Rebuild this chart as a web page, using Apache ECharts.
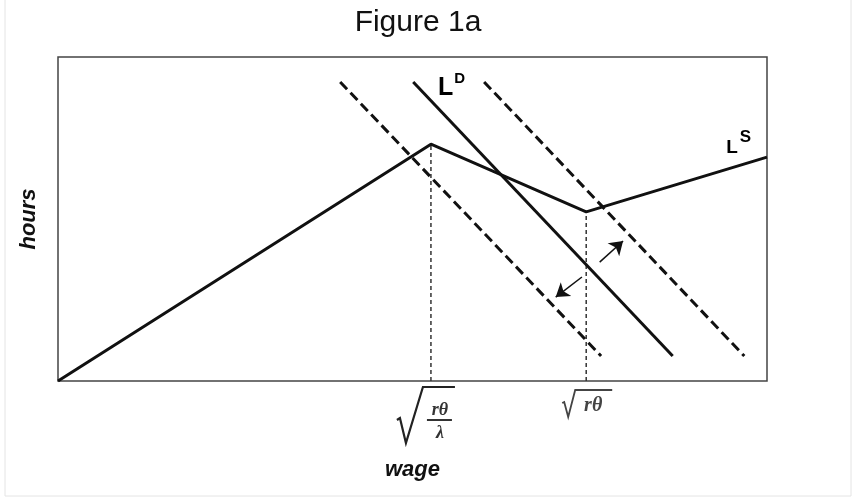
<!DOCTYPE html>
<html>
<head>
<meta charset="utf-8">
<title>Figure 1a</title>
<script src="https://cdn.jsdelivr.net/npm/echarts@6/dist/echarts.min.js"></script>
<style>
    html, body { margin: 0; padding: 0; background: #fff; }
    #main { width: 857px; height: 500px; }
</style>
</head>
<body>
<div id="main"></div>
<script>
// wage axis runs 0..100, hours axis runs 0..100
let supplyX = [0, 52.6, 74.5, 100];
let supplyY = [0, 73.1, 52.2, 69.1];

let demandX = [50.1, 86.7];
let demandLowX = [39.8, 76.6];
let demandHighX = [60.1, 96.8];
let demandY = [92.3, 7.7];

// the two kink wages and where they meet L^S
let kinkX = [52.6, 74.5];
let kinkY = [73.1, 52.2];

// shift arrows [from, to]
let arrowUp = [[76.4, 36.7], [79.7, 43.2]];
let arrowDown = [[73.9, 32.1], [70.2, 25.9]];

function pairs(xs, ys) {
    let out = [];
    for (let i = 0; i < xs.length; i++) {
        out.push([xs[i], ys[i]]);
    }
    return out;
}

let myChart = echarts.init(document.getElementById('main'));

let lineStyleBase = { color: '#111', width: 3 };

let option = {
    animation: false,
    backgroundColor: '#fff',
    title: {
        text: 'Figure 1a',
        left: 413,
        textAlign: 'center',
        top: 3,
        textStyle: {
            fontFamily: 'Liberation Sans',
            fontWeight: 'normal',
            fontSize: 30,
            color: '#111'
        }
    },
    grid: {
        left: 58,
        top: 57,
        right: 90,
        bottom: 119,
        show: true,
        borderColor: '#444',
        borderWidth: 1.5
    },
    xAxis: {
        type: 'value',
        min: 0,
        max: 100,
        name: 'wage',
        nameLocation: 'middle',
        nameGap: 78,
        nameTextStyle: {
            fontFamily: 'Liberation Sans',
            fontStyle: 'italic',
            fontWeight: 'bold',
            fontSize: 22,
            color: '#111'
        },
        axisLine: { show: false },
        axisTick: { show: false },
        axisLabel: { show: false },
        splitLine: { show: false }
    },
    yAxis: {
        type: 'value',
        min: 0,
        max: 100,
        name: 'hours',
        nameLocation: 'middle',
        nameRotate: 90,
        nameGap: 18,
        nameTextStyle: {
            fontFamily: 'Liberation Sans',
            fontStyle: 'italic',
            fontWeight: 'bold',
            fontSize: 22,
            color: '#111'
        },
        axisLine: { show: false },
        axisTick: { show: false },
        axisLabel: { show: false },
        splitLine: { show: false }
    },
    series: [
        {
            // L^S
            type: 'line',
            data: pairs(supplyX, supplyY),
            symbol: 'none',
            lineStyle: lineStyleBase,
            z: 5
        },
        {
            // L^D
            type: 'line',
            data: pairs(demandX, demandY),
            symbol: 'none',
            lineStyle: lineStyleBase,
            z: 5
        },
        {
            type: 'line',
            data: pairs(demandLowX, demandY),
            symbol: 'none',
            lineStyle: { color: '#111', width: 3, type: [10, 5] },
            z: 4
        },
        {
            type: 'line',
            data: pairs(demandHighX, demandY),
            symbol: 'none',
            lineStyle: { color: '#111', width: 3, type: [10, 5] },
            z: 4
        },
        {
            // dotted drops from the kinks
            type: 'line',
            data: [[kinkX[0], 0], [kinkX[0], kinkY[0]]],
            symbol: 'none',
            lineStyle: { color: '#333', width: 1.5, type: [4, 3] },
            z: 3
        },
        {
            type: 'line',
            data: [[kinkX[1], 0], [kinkX[1], kinkY[1]]],
            symbol: 'none',
            lineStyle: { color: '#333', width: 1.5, type: [4, 3] },
            z: 3
        },
        {
            type: 'lines',
            coordinateSystem: 'cartesian2d',
            symbol: ['none', 'arrow'],
            symbolSize: 13,
            lineStyle: { color: '#111', width: 1.5, opacity: 1 },
            itemStyle: { color: '#111' },
            data: [
                { coords: arrowUp },
                { coords: arrowDown }
            ],
            z: 6
        },
        {
            // curve names
            type: 'scatter',
            symbolSize: 0,
            itemStyle: { opacity: 1 },
            data: [
                { value: [55.5, 91.0], name: 'D' },
                { value: [96.0, 73.5], name: 'S' }
            ],
            label: {
                show: true,
                position: 'inside',
                opacity: 1,
                formatter: function (p) {
                    return p.name == 'D' ? '{l|L}{d|D}' : '{ls|L}{s|S}';
                },
                rich: {
                    l: { fontFamily: 'Liberation Sans', fontWeight: 'bold', fontSize: 25, color: '#000', verticalAlign: 'bottom' },
                    d: { fontFamily: 'Liberation Sans', fontWeight: 'bold', fontSize: 15, color: '#000', padding: [0, 0, 14, 1] },
                    ls: { fontFamily: 'Liberation Sans', fontWeight: 'bold', fontSize: 19, color: '#000', verticalAlign: 'bottom' },
                    s: { fontFamily: 'Liberation Sans', fontWeight: 'bold', fontSize: 17, color: '#000', padding: [0, 0, 12, 2] }
                }
            },
            z: 7
        }
    ]
};

myChart.setOption(option);

// tick labels under the kink wages, placed from the axis scale
let p1 = myChart.convertToPixel({ gridIndex: 0 }, [kinkX[0], 0]);
let p2 = myChart.convertToPixel({ gridIndex: 0 }, [kinkX[1], 0]);
let x1 = p1[0], y0 = p1[1];
let x2 = p2[0];

myChart.setOption({
    graphic: [
        {
            type: 'rect',
            shape: { x: 5, y: -2, width: 846, height: 498 },
            style: { fill: 'none', stroke: '#e4e4e4', lineWidth: 1 },
            silent: true
        },
        // sqrt(r theta / lambda)
        {
            type: 'polyline',
            shape: { points: [[x1 - 34, y0 + 39], [x1 - 31, y0 + 37], [x1 - 25, y0 + 62], [x1 - 8, y0 + 6], [x1 + 24, y0 + 6]] },
            style: { fill: 'none', stroke: '#222', lineWidth: 2.2 }
        },
        {
            type: 'text',
            x: x1 + 9, y: y0 + 29,
            style: { text: 'rθ', fontFamily: 'Liberation Serif', fontStyle: 'italic', fontWeight: 'bold', fontSize: 18, fill: '#333', align: 'center', verticalAlign: 'middle' }
        },
        {
            type: 'line',
            shape: { x1: x1 - 4, y1: y0 + 39, x2: x1 + 21, y2: y0 + 39 },
            style: { stroke: '#333', lineWidth: 2 }
        },
        {
            type: 'text',
            x: x1 + 9, y: y0 + 52,
            style: { text: 'λ', fontFamily: 'Liberation Serif', fontStyle: 'italic', fontWeight: 'bold', fontSize: 18, fill: '#333', align: 'center', verticalAlign: 'middle' }
        },
        // sqrt(r theta)
        {
            type: 'polyline',
            shape: { points: [[x2 - 24, y0 + 22], [x2 - 22, y0 + 21], [x2 - 18, y0 + 36], [x2 - 11, y0 + 9], [x2 + 26, y0 + 9]] },
            style: { fill: 'none', stroke: '#444', lineWidth: 1.8 }
        },
        {
            type: 'text',
            x: x2 + 7, y: y0 + 25,
            style: { text: 'rθ', fontFamily: 'Liberation Serif', fontStyle: 'italic', fontWeight: 'bold', fontSize: 20, fill: '#444', align: 'center', verticalAlign: 'middle' }
        }
    ]
});
</script>
</body>
</html>
